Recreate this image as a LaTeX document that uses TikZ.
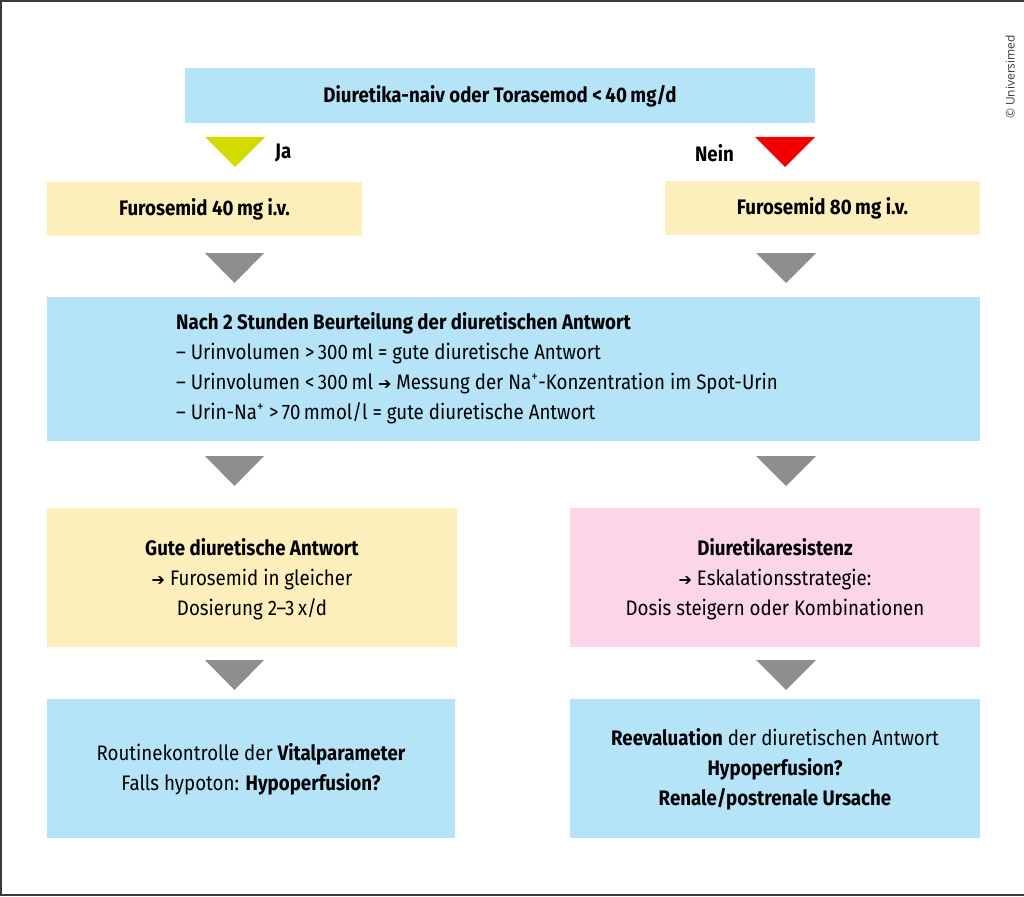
\documentclass[tikz,border=0pt]{standalone}
\usepackage{fontspec}
\setmainfont{Fira Sans}[FakeStretch=0.89]
\newfontfamily\copyfont{Open Sans}
\newfontfamily\arrowfont{DejaVu Sans}
\usetikzlibrary{positioning}
\definecolor{lblue}{HTML}{B5E3F8}
\definecolor{lyellow}{HTML}{FDEFBC}
\definecolor{lpink}{HTML}{FCD6E8}
\definecolor{tgrey}{HTML}{8E8E8E}
\definecolor{tgreen}{HTML}{D4DA00}
\definecolor{tred}{HTML}{F20000}
\definecolor{frame}{HTML}{3A3A3A}
\newcommand{\arr}{{\arrowfont\fontsize{16}{16}\selectfont ➔}}
\tikzset{
  txt/.style={align=center, inner sep=0pt, font=\fontsize{21}{30}\selectfont},
}
\begin{document}
\begin{tikzpicture}[x=1pt,y=-1pt]
\useasboundingbox (0,0) rectangle (1024,896);
\fill[white] (0,0) rectangle (1024,896);
\draw[frame, line width=2pt] (1024,1) -- (1,1) -- (1,894.5) -- (1024,894.5);

% boxes
\fill[lblue] (185,68) rectangle (815,123);
\node[txt] (top) at (500,96) {\textbf{Diuretika-naiv oder Torasemod <\,40\,mg/d}};

\fill[lyellow] (47,182) rectangle (362,236);
\node[txt] (f40) at (204.5,209) {\textbf{Furosemid 40\,mg i.v.}};
\fill[lyellow] (665,181) rectangle (980,235);
\node[txt] (f80) at (822.5,208) {\textbf{Furosemid 80\,mg i.v.}};

\fill[lblue] (47,297) rectangle (980,441);
\node[txt, align=left, anchor=west] (big) at (176,368) {\textbf{Nach 2 Stunden Beurteilung der diuretischen Antwort}\\
– Urinvolumen >\,300\,ml = gute diuretische Antwort\\
– Urinvolumen <\,300\,ml \arr\ Messung der Na\textsuperscript{+}-Konzentration im Spot-Urin\\
– Urin-Na\textsuperscript{+} >\,70\,mmol/l = gute diuretische Antwort};

\fill[lyellow] (47,508) rectangle (457,647);
\node[txt] (good) at (252,579) {\textbf{Gute diuretische Antwort}\\ \arr\ Furosemid in gleicher\\ Dosierung 2–3\,x/d};
\fill[lpink] (570,508) rectangle (980,647);
\node[txt] (res) at (775,579) {\textbf{Diuretikaresistenz}\\ \arr\ Eskalationsstrategie:\\ Dosis steigern oder Kombinationen};

\fill[lblue] (47,699) rectangle (455,838);
\node[txt] (rout) at (251,769) {Routinekontrolle der \textbf{Vitalparameter}\\ Falls hypoton: \textbf{Hypoperfusion?}};
\fill[lblue] (570,699) rectangle (980,838);
\node[txt] (reev) at (775,769) {\textbf{Reevaluation} der diuretischen Antwort\\ \textbf{Hypoperfusion?}\\ \textbf{Renale/postrenale Ursache}};

% triangles
\fill[tgreen] (205,137) -- (265,137) -- (235,167) -- cycle;
\fill[tred] (755,137) -- (815,137) -- (785,167) -- cycle;
\node[txt, anchor=west] (ja) at (275,153) {\textbf{Ja}};
\node[txt, anchor=east] (nein) at (734,153) {\textbf{Nein}};

\foreach \y in {253,456,660}{
  \fill[tgrey] (205,\y) -- (264,\y) -- (234.5,\y+30) -- cycle;
  \fill[tgrey] (756,\y) -- (816,\y) -- (786,\y+30) -- cycle;
}

\node[rotate=90, inner sep=0pt, font=\copyfont\fontsize{12}{12}\selectfont, text=frame] (copy) at (1010,77) {© Universimed};
\end{tikzpicture}
\end{document}
